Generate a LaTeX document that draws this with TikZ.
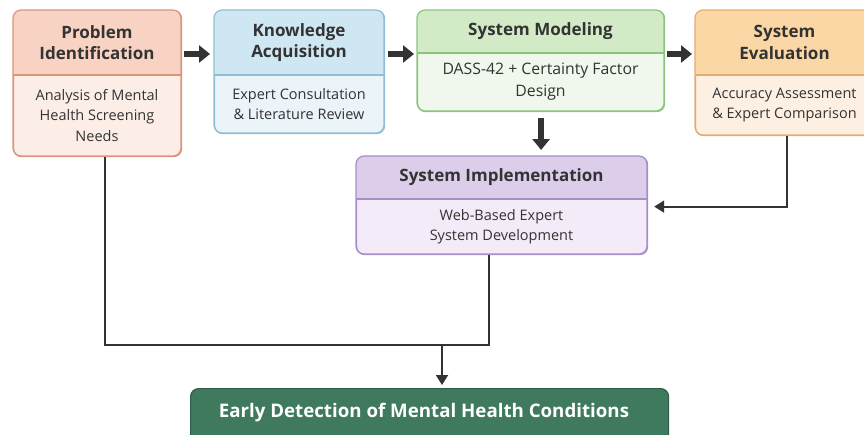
\documentclass[tikz,border=0pt]{standalone}
\usepackage{fontspec}
\setmainfont{Open Sans}
\usetikzlibrary{arrows.meta}

\definecolor{inkdark}{HTML}{333333}
\definecolor{headA}{HTML}{F8D3C4}\definecolor{bodyA}{HTML}{FCEEE7}\definecolor{lineA}{HTML}{D9957E}
\definecolor{headB}{HTML}{CFE7F3}\definecolor{bodyB}{HTML}{EAF4F9}\definecolor{lineB}{HTML}{8FBFD6}
\definecolor{headC}{HTML}{D2EAC6}\definecolor{bodyC}{HTML}{F0F7EC}\definecolor{lineC}{HTML}{8CC47E}
\definecolor{headD}{HTML}{FAD7A5}\definecolor{bodyD}{HTML}{FDF0E2}\definecolor{lineD}{HTML}{E2AE6E}
\definecolor{headE}{HTML}{DCCDEB}\definecolor{bodyE}{HTML}{F3ECF8}\definecolor{lineE}{HTML}{A88DC8}
\definecolor{goalfill}{HTML}{3F7A5F}\definecolor{goalline}{HTML}{2F5E48}

\newcommand{\widebody}{\fontsize{15.8}{22}\selectfont}

\tikzset{
  frame/.style={rounded corners=8pt, line width=1.2pt},
  titletext/.style={font=\bfseries\fontsize{17}{21.5}\selectfont, text=inkdark, align=center, inner sep=0pt},
  bodytext/.style={font=\fontsize{14.5}{20.5}\selectfont, text=inkdark, align=center, inner sep=0pt},
  bigarrow/.style={line width=6.5pt, draw=inkdark, -{Triangle[length=11pt,width=17pt]}},
  flow/.style={line width=1.8pt, draw=inkdark, rounded corners=0pt},
  flowarrow/.style={flow, -{Triangle[length=10pt,width=12pt]}},
}

% stage box: name, x1, y1, x2, y2, y of divider, colour suffix, title, body
\newcommand{\stagebox}[9]{%
  \node[frame, draw=line#7, fill=body#7, inner sep=0pt, anchor=north west,
        minimum width=#4pt-#2pt, minimum height=#5pt-#3pt] (#1) at (#2,#3) {};
  \begin{scope}
    \clip[rounded corners=8pt] (#2,#3) rectangle (#4,#5);
    \fill[head#7] (#2,#3) rectangle (#4,#6);
  \end{scope}
  \draw[line#7, line width=1.2pt] (#2,#6) -- (#4,#6);
  \draw[frame, line#7] (#2,#3) rectangle (#4,#5);
  \node[titletext] (#1-title) at ({(#2+#4)/2},{(#3+#6)/2}) {#8};
  \node[bodytext] (#1-body) at ({(#2+#4)/2},{(#6+#5)/2}) {#9};
}

\begin{document}
\begin{tikzpicture}[x=1pt,y=-1pt]
  \useasboundingbox (0,0) rectangle (864,434);

  \stagebox{prob}{13}{10}{181}{156}{75}{A}{Problem\\Identification}{Analysis of Mental\\Health Screening\\Needs}
  \stagebox{know}{214}{10}{384}{133}{75}{B}{Knowledge\\Acquisition}{Expert Consultation\\\& Literature Review}
  \stagebox{model}{417}{10}{664}{111}{53}{C}{System Modeling}{{\widebody DASS-42 + Certainty Factor}\\[1.5pt]{\widebody Design}}
  \stagebox{eval}{695}{10}{874}{135}{75}{D}{System\\Evaluation}{Accuracy Assessment\\\& Expert Comparison}
  \stagebox{impl}{356}{156}{647}{254}{199}{E}{System Implementation}{Web-Based Expert\\System Development}

  % outcome
  \node[rounded corners=8pt, draw=goalline, line width=1.2pt, fill=goalfill, anchor=north west,
        minimum width=478pt, minimum height=60pt, inner sep=0pt] (goal) at (190,388) {};
  \node[font=\bfseries\fontsize{18.7}{22}\selectfont, text=white, inner sep=0pt]
        (goal-text) at (424,413) {Early Detection of Mental Health Conditions};

  % main sequence
  \draw[bigarrow] ([xshift=2pt,yshift=-44pt]prob.north east) -- ([xshift=-4pt,yshift=-44pt]know.north west);
  \draw[bigarrow] ([xshift=3pt,yshift=-44pt]know.north east) -- ([xshift=-3pt,yshift=-44pt]model.north west);
  \draw[bigarrow] ([xshift=2pt,yshift=-44pt]model.north east) -- ([xshift=-3pt,yshift=-44pt]eval.north west);
  \draw[bigarrow] ([yshift=-6pt]model.south) -- ([yshift=6pt]model.south |- impl.north);

  % feedback from evaluation
  \draw[flowarrow] ([xshift=1.5pt]eval.south) |- ([xshift=6pt,yshift=-1pt]impl.east);

  % merge towards the outcome
  \coordinate (merge) at (442,345);
  \draw[flow] ([xshift=7pt]prob.south) |- (merge);
  \draw[flow] ([xshift=-13pt]impl.south) |- (merge);
  \draw[flowarrow] (merge) -- ([yshift=3pt]merge |- goal.north);
\end{tikzpicture}
\end{document}
